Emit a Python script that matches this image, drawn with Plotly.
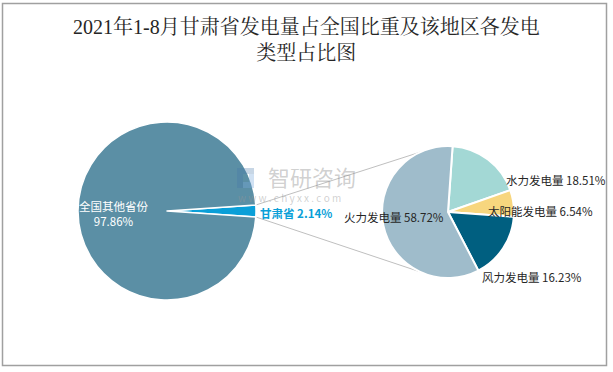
import math
import plotly.graph_objects as go

# ---- data ----
main_labels = ["甘肃省", "全国其他省份"]
main_values = [2.14, 97.86]
sub_labels = ["水力发电量", "太阳能发电量", "风力发电量", "火力发电量"]
sub_values = [18.51, 6.54, 16.23, 58.72]
title_lines = ["2021年1-8月甘肃省发电量占全国比重及该地区各发电", "类型占比图"]

# ---- styling ----
W, H = 613, 372
main_colors = ["#0a9fd8", "#5b8fa5"]
sub_colors = ["#a3d8d5", "#f7d67e", "#005f80", "#9fbccb"]
FONT = "Noto Sans CJK SC, Noto Sans, sans-serif"

L_CX, L_CY, L_R = 167, 211, 89
R_CX, R_CY, R_R = 448, 212, 66


def px(x):
    return x / W


def py(y):
    return 1 - y / H


def dom(cx, cy, r):
    return dict(x=[px(cx - r), px(cx + r)], y=[py(cy + r), py(cy - r)])


gansu_angle = main_values[0] / sum(main_values) * 360
main_rotation = 90 - gansu_angle / 2

fig = go.Figure()
fig.add_trace(go.Pie(
    labels=main_labels, values=main_values, sort=False, direction="clockwise",
    rotation=main_rotation, domain=dom(L_CX, L_CY, L_R),
    marker=dict(colors=main_colors, line=dict(color="white", width=1.5)),
    textinfo="none", hoverinfo="label+percent", showlegend=False,
))
fig.add_trace(go.Pie(
    labels=sub_labels, values=sub_values, sort=False, direction="clockwise",
    rotation=4, domain=dom(R_CX, R_CY, R_R),
    marker=dict(colors=sub_colors, line=dict(color="white", width=2)),
    textinfo="none", hoverinfo="label+percent", showlegend=False,
))


def pt(cx, cy, r, ang):
    a = math.radians(ang)
    return cx + r * math.sin(a), cy - r * math.cos(a)


shapes = []
# connector lines between Gansu slice and the secondary pie
a1 = main_rotation
a2 = main_rotation + gansu_angle
for la, ra in [(a1, 335), (a2, 205)]:
    x0, y0 = pt(L_CX, L_CY, L_R, la)
    x1, y1 = pt(R_CX, R_CY, R_R, ra)
    shapes.append(dict(type="line", xref="paper", yref="paper",
                       x0=px(x0), y0=py(y0), x1=px(x1), y1=py(y1),
                       line=dict(color="#bfbfbf", width=1), layer="below"))
# chart border
shapes.append(dict(type="rect", xref="paper", yref="paper",
                   x0=px(2.5), y0=py(365.5), x1=px(606.5), y1=py(3.5),
                   line=dict(color="#a0a0a0", width=1.5)))
# watermark logo (simple blocks)
for (x0, y0, x1, y1, c) in [(237, 168, 243, 188, "rgba(70,120,170,0.30)"),
                            (243, 168, 254, 174, "rgba(70,120,170,0.30)"),
                            (249, 174, 254, 188, "rgba(120,170,220,0.35)"),
                            (243, 182, 249, 188, "rgba(120,170,220,0.35)")]:
    shapes.append(dict(type="rect", xref="paper", yref="paper",
                       x0=px(x0), y0=py(y1), x1=px(x1), y1=py(y0),
                       fillcolor=c, line=dict(width=0), layer="above"))

annotations = []
# title
annotations.append(dict(x=px(306), y=py(40), xref="paper", yref="paper",
                        xanchor="center", yanchor="middle", showarrow=False,
                        text="<br>".join(title_lines),
                        font=dict(family="Liberation Serif, Noto Serif CJK SC, serif",
                                  size=20, color="#262626")))
# watermark
annotations.append(dict(x=px(266), y=py(176), xref="paper", yref="paper", xanchor="left",
                        yanchor="middle", showarrow=False, text="智研咨询",
                        font=dict(family=FONT, size=22, color="rgba(150,150,150,0.45)")))
annotations.append(dict(x=px(236), y=py(197), xref="paper", yref="paper", xanchor="left",
                        yanchor="middle", showarrow=False, text="w w w . c h y x x . c o m",
                        font=dict(family=FONT, size=10, color="rgba(150,150,150,0.45)")))

# main pie labels
annotations.append(dict(x=px(113), y=py(213), xref="paper", yref="paper", xanchor="center",
                        yanchor="middle", showarrow=False,
                        text=f"{main_labels[1]}<br>{main_values[1]:.2f}%",
                        font=dict(family=FONT, size=11.5, color="white")))
annotations.append(dict(x=px(258), y=py(213), xref="paper", yref="paper", xanchor="left",
                        yanchor="middle", showarrow=False,
                        text=f"<b>{main_labels[0]} {main_values[0]:.2f}%</b>",
                        font=dict(family=FONT, size=11.5, color="#0a9fd8")))

# sub pie labels
sub_pos = {"水力发电量": (504, 180), "太阳能发电量": (486, 211),
           "风力发电量": (480, 277), "火力发电量": (342, 217)}
for lab, val in zip(sub_labels, sub_values):
    x, y = sub_pos[lab]
    annotations.append(dict(x=px(x), y=py(y), xref="paper", yref="paper", xanchor="left",
                            yanchor="middle", showarrow=False, text=f"{lab} {val:.2f}%",
                            font=dict(family=FONT, size=11.5, color="#262626")))

fig.update_layout(
    width=W, height=H, margin=dict(l=0, r=0, t=0, b=0),
    paper_bgcolor="white", plot_bgcolor="white",
    shapes=shapes, annotations=annotations,
)

fig.write_html("out.html", config={"displayModeBar": False},
               post_script="document.body.style.margin='0';document.body.style.overflow='hidden';")
